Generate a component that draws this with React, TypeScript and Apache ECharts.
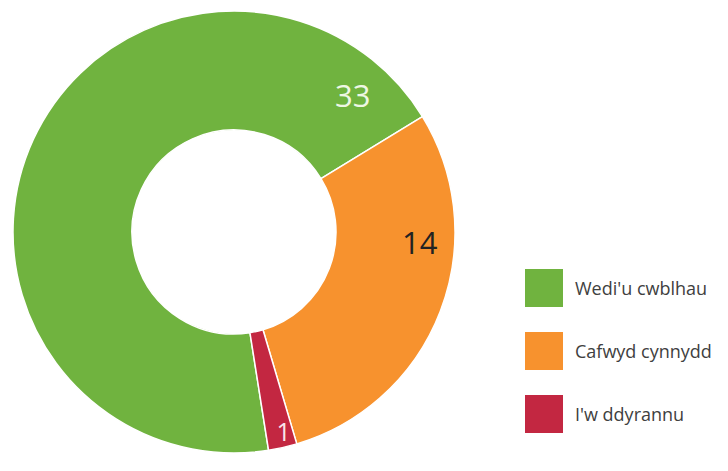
import React, { useEffect, useRef } from "react";
import * as echarts from "echarts";

const categories = ["Wedi'u cwblhau", "Cafwyd cynnydd", "I'w ddyrannu"];
const values = [33, 14, 1];
const colors = ["#70b33f", "#f7922e", "#c32741"];
const labelColors = ["#eef7e4", "#222222", "#f8e6ea"];
const labelSizes = [31, 31, 25];
// label placement: compass angle (deg, clockwise from top) and radius in px
const labelAngles = [41, 93, 166];
const labelRadii = [181, 186, 205];

const CX = 234;
const CY = 232;

export default function App() {
  const ref = useRef<HTMLDivElement>(null);
  useEffect(() => {
    if (!ref.current) return;
    const chart = echarts.init(ref.current, undefined, { renderer: "svg" });
    chart.setOption({
      animation: false,
      backgroundColor: "#ffffff",
      legend: {
        orient: "vertical",
        left: 523,
        top: 267,
        padding: 0,
        itemWidth: 40,
        itemHeight: 40,
        itemGap: 21,
        icon: "rect",
        data: categories,
        textStyle: {
          fontFamily: "Open Sans",
          fontSize: 18,
          color: "#404040",
          padding: [0, 0, 0, 6],
        },
      },
      series: [
        {
          type: "pie",
          center: [CX, CY],
          radius: [102, 221],
          startAngle: 279,
          clockwise: true,
          avoidLabelOverlap: false,
          itemStyle: { borderColor: "#ffffff", borderWidth: 1.5 },
          label: {
            show: true,
            position: "inside",
            formatter: "{c}",
            fontFamily: "Open Sans",
          },
          labelLine: { show: false },
          labelLayout: (params: any) => {
            const i = params.dataIndex;
            const a = (labelAngles[i] * Math.PI) / 180;
            return {
              x: CX + labelRadii[i] * Math.sin(a),
              y: CY - labelRadii[i] * Math.cos(a),
              align: "center",
              verticalAlign: "middle",
              fontSize: labelSizes[i],
            };
          },
          data: categories.map((name, i) => ({
            name,
            value: values[i],
            itemStyle: { color: colors[i] },
            label: { color: labelColors[i], fontSize: labelSizes[i] },
          })),
        },
      ],
    });
    return () => chart.dispose();
  }, []);
  return (
    <div
      ref={ref}
      style={{ position: "absolute", left: 0, top: 0, width: 728, height: 471 }}
    />
  );
}
